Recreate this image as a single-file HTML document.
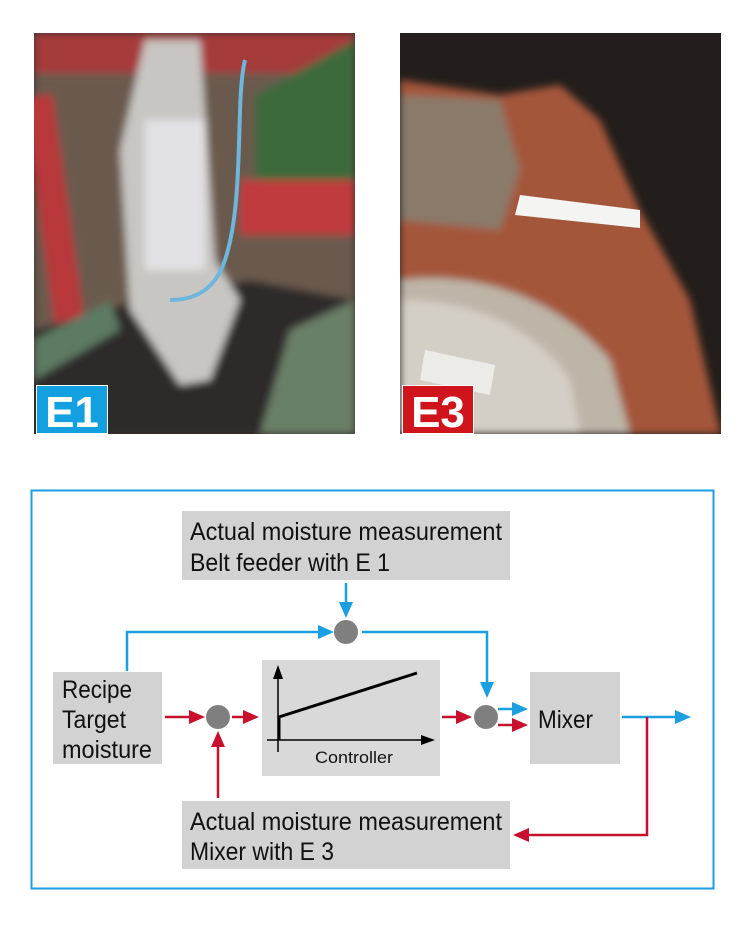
<!DOCTYPE html>
<html><head><meta charset="utf-8"><style>
html,body{margin:0;padding:0;background:#fff;}
svg{display:block;}
text{font-family:"Liberation Sans Narrow","Liberation Sans",sans-serif;fill:#111;}
</style></head><body>
<svg width="751" height="933" viewBox="0 0 751 933" xmlns="http://www.w3.org/2000/svg">
<defs>
<filter id="bl" x="-10%" y="-10%" width="120%" height="120%"><feGaussianBlur stdDeviation="4"/></filter>
<clipPath id="c1"><rect x="34" y="33" width="321" height="401"/></clipPath>
<clipPath id="c2"><rect x="400" y="33" width="321" height="401"/></clipPath>
<marker id="ab" viewBox="0 0 10 10" refX="9" refY="5" markerWidth="5" markerHeight="5" orient="auto" markerUnits="userSpaceOnUse"><path d="M0,0 L10,5 L0,10 z" fill="#1a9fe0"/></marker>
</defs>
<!-- Photo E1 -->
<g clip-path="url(#c1)">
<rect x="34" y="33" width="321" height="401" fill="#3a3230"/>
<g filter="url(#bl)">
<rect x="34" y="33" width="321" height="330" fill="#6b5a4e"/>
<rect x="40" y="95" width="30" height="250" fill="#b8373a" transform="rotate(-8 55 220)"/>
<rect x="34" y="33" width="321" height="40" fill="#a63b3a"/>
<path d="M255 95 L355 40 L355 205 L255 210 Z" fill="#3e6b3c"/>
<rect x="240" y="180" width="115" height="55" fill="#c03a3e"/>
<path d="M34 330 L140 300 L250 280 L355 300 L355 434 L34 434 Z" fill="#2f2a2b"/>
<path d="M290 330 L355 300 L355 434 L260 434 Z" fill="#6b7f67"/>
<path d="M34 340 L110 300 L120 330 L34 380 Z" fill="#5d7a63"/>
<path d="M145 40 L200 40 L215 260 L240 300 L210 380 L180 385 L130 310 L120 150 Z" fill="#c8c6c3"/>
<rect x="145" y="120" width="60" height="150" fill="#e2e2e4"/>
</g>
<path d="M245 60 C235 100 245 200 225 260 C215 290 195 300 170 300" stroke="#6fb6dd" stroke-width="4" fill="none"/>
</g>
<rect x="36" y="385" width="72" height="49" fill="#fff"/>
<rect x="37" y="386" width="70" height="47" fill="#12a0e0"/>
<text x="72" y="427" text-anchor="middle" font-family="Liberation Sans" font-weight="bold" font-size="44" style="fill:#fff">E1</text>
<!-- Photo E3 -->
<g clip-path="url(#c2)">
<rect x="400" y="33" width="321" height="401" fill="#231e1b"/>
<g filter="url(#bl)">
<path d="M400 80 L500 95 L560 85 L600 120 L640 210 L690 300 L721 434 L400 434 Z" fill="#a4563b"/>
<path d="M400 95 L500 100 L520 170 L500 230 L400 220 Z" fill="#8a7a6a"/>
<path d="M400 280 C480 270 560 300 610 360 L630 434 L400 434 Z" fill="#bdb5a8"/>
<path d="M400 300 C460 300 530 320 570 380 L580 434 L400 434 Z" fill="#d4cfc6"/>
</g>
<path d="M520 195 L640 210 L640 228 L515 215 Z" fill="#f4f4f2"/>
<path d="M425 350 L495 365 L490 395 L420 380 Z" fill="#ecebe8"/>
</g>
<rect x="402" y="385" width="72" height="49" fill="#fff"/>
<rect x="403" y="386" width="70" height="47" fill="#d0141c"/>
<text x="438" y="427" text-anchor="middle" font-family="Liberation Sans" font-weight="bold" font-size="44" style="fill:#fff">E3</text>

<!-- Diagram frame -->
<rect x="31.5" y="490.5" width="682" height="398" fill="none" stroke="#1a9fe0" stroke-width="2"/>
<!-- boxes -->
<rect x="182" y="511" width="328" height="69" fill="#d2d2d2"/>
<rect x="182" y="801" width="328" height="68" fill="#d2d2d2"/>
<rect x="53" y="672" width="109" height="92" fill="#d2d2d2"/>
<rect x="262" y="660" width="178" height="116" fill="#d9d9d9"/>
<rect x="530" y="672" width="90" height="92" fill="#d2d2d2"/>

<text x="190" y="540" font-size="25" textLength="312" lengthAdjust="spacingAndGlyphs">Actual moisture measurement</text>
<text x="190" y="571" font-size="25" textLength="200" lengthAdjust="spacingAndGlyphs">Belt feeder with E 1</text>
<text x="190" y="830" font-size="25" textLength="312" lengthAdjust="spacingAndGlyphs">Actual moisture measurement</text>
<text x="190" y="860" font-size="25" textLength="144" lengthAdjust="spacingAndGlyphs">Mixer with E 3</text>
<text x="62" y="698" font-size="25" textLength="70" lengthAdjust="spacingAndGlyphs">Recipe</text>
<text x="62" y="728" font-size="25" textLength="64" lengthAdjust="spacingAndGlyphs">Target</text>
<text x="62" y="758" font-size="25" textLength="90" lengthAdjust="spacingAndGlyphs">moisture</text>
<text x="538" y="728" font-size="25" textLength="55" lengthAdjust="spacingAndGlyphs">Mixer</text>
<text x="315" y="763" font-size="17" textLength="78" lengthAdjust="spacingAndGlyphs">Controller</text>

<!-- graph -->
<line x1="278" y1="752" x2="278" y2="676" stroke="#000" stroke-width="1.5"/>
<path d="M278 665 L273 679 L283 679 Z" fill="#000"/>
<line x1="267" y1="740" x2="424" y2="740" stroke="#000" stroke-width="1.5"/>
<path d="M435 740 L421 735 L421 745 Z" fill="#000"/>
<path d="M279 740 L279 717 L417 673" stroke="#000" stroke-width="3" fill="none"/>

<!-- circles -->
<circle cx="346" cy="632" r="12" fill="#7f7f7f"/>
<circle cx="218" cy="717" r="12" fill="#7f7f7f"/>
<circle cx="486" cy="717" r="12" fill="#7f7f7f"/>

<!-- blue lines -->
<g stroke="#1a9fe0" stroke-width="2.5" fill="none">
<path d="M127 671 L127 632 L324 632"/>
<path d="M362 632 L487 632 L487 686"/>
<line x1="346" y1="583" x2="346" y2="606"/>
<line x1="498" y1="709" x2="517" y2="709"/>
<line x1="622" y1="717" x2="680" y2="717"/>
</g>
<g fill="#1a9fe0">
<path d="M334 632 L318 625 L318 639 Z"/>
<path d="M346 618 L339 602 L353 602 Z"/>
<path d="M487 698 L480 682 L494 682 Z"/>
<path d="M528 709 L512 702 L512 716 Z"/>
<path d="M691 717 L675 710 L675 724 Z"/>
</g>
<!-- red lines -->
<g stroke="#c8102e" stroke-width="2.5" fill="none">
<line x1="165" y1="717" x2="195" y2="717"/>
<line x1="232" y1="717" x2="249" y2="717"/>
<line x1="442" y1="717" x2="462" y2="717"/>
<line x1="498" y1="725" x2="517" y2="725"/>
<line x1="218" y1="798" x2="218" y2="742"/>
<path d="M647 717 L647 835 L524 835"/>
</g>
<g fill="#c8102e">
<path d="M205 717 L189 710 L189 724 Z"/>
<path d="M259 717 L243 710 L243 724 Z"/>
<path d="M472 717 L456 710 L456 724 Z"/>
<path d="M528 725 L512 718 L512 732 Z"/>
<path d="M218 731 L211 747 L225 747 Z"/>
<path d="M513 835 L529 828 L529 842 Z"/>
</g>
</svg>
</body></html>
